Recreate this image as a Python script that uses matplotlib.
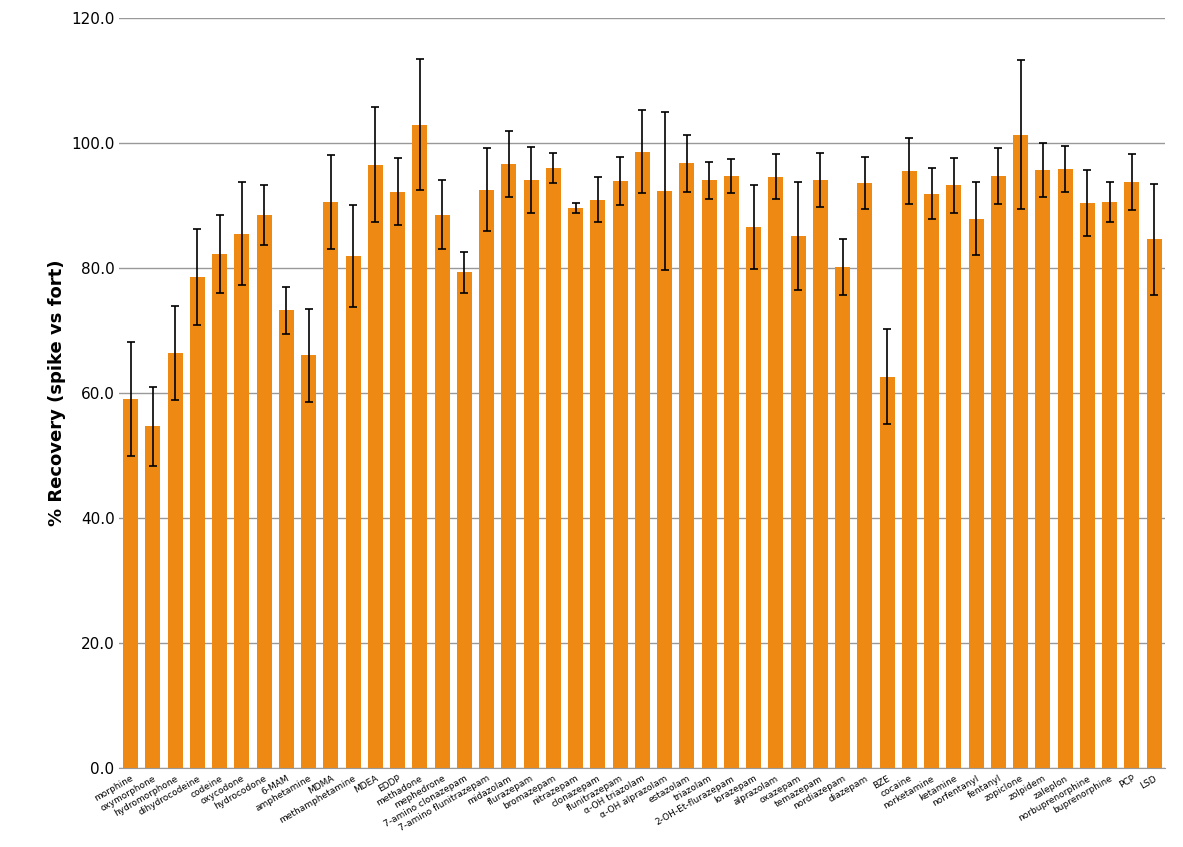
import numpy as np
import matplotlib.pyplot as plt

names = ["morphine", "oxymorphone", "hydromorphone", "dihydrocodeine", "codeine", "oxycodone",
         "hydrocodone", "6-MAM", "amphetamine", "MDMA", "methamphetamine", "MDEA", "EDDP",
         "methadone", "mephedrone", "7-amino clonazepam", "7-amino flunitrazepam", "midazolam",
         "flurazepam", "bromazepam", "nitrazepam", "clonazepam", "flunitrazepam", "α-OH triazolam",
         "α-OH alprazolam", "estazolam", "triazolam", "2-OH-Et-flurazepam", "lorazepam", "alprazolam",
         "oxazepam", "temazepam", "nordiazepam", "diazepam", "BZE", "cocaine", "norketamine",
         "ketamine", "norfentanyl", "fentanyl", "zopiclone", "zolpidem", "zaleplon",
         "norbuprenorphine", "buprenorphine", "PCP", "LSD"]
recovery = [59.0, 54.7, 66.4, 78.6, 82.2, 85.5, 88.5, 73.2, 66.0, 90.6, 81.9, 96.5, 92.2,
            102.9, 88.5, 79.3, 92.5, 96.6, 94.1, 96.0, 89.6, 90.9, 93.9, 98.6, 92.3, 96.7,
            94.0, 94.7, 86.5, 94.6, 85.1, 94.0, 80.2, 93.6, 62.6, 95.5, 91.9, 93.2, 87.9,
            94.7, 101.3, 95.7, 95.8, 90.4, 90.6, 93.7, 84.6]
err = [9.1, 6.3, 7.5, 7.7, 6.2, 8.3, 4.8, 3.8, 7.5, 7.5, 8.2, 9.2, 5.4, 10.5, 5.5, 3.3,
       6.6, 5.3, 5.3, 2.4, 0.8, 3.6, 3.9, 6.6, 12.6, 4.5, 3.0, 2.7, 6.7, 3.6, 8.7, 4.3,
       4.5, 4.2, 7.6, 5.2, 4.1, 4.4, 5.9, 4.5, 11.9, 4.3, 3.7, 5.3, 3.2, 4.5, 8.9]

fig = plt.figure(figsize=(11.83, 8.47), dpi=100)
ax = fig.add_axes([0.101, 0.093, 0.884, 0.886])

x = np.arange(len(names))
ax.bar(x, recovery, width=0.68, color='#EE8A14', zorder=2)
ax.errorbar(x, recovery, yerr=err, fmt='none', ecolor='black', elinewidth=1.2,
            capsize=3, capthick=1.2, zorder=3)

ax.set_xlim(-0.5, len(names) - 0.5)
ax.set_ylim(0, 120)
ax.set_yticks(np.arange(0, 121, 20))
ax.set_yticklabels([f"{v:.1f}" for v in np.arange(0, 121, 20)], fontsize=11)
ax.yaxis.grid(True, color='#999999', linewidth=1, zorder=0)
ax.set_xticks(x)
ax.set_xticklabels(names, rotation=30, ha='right', rotation_mode='anchor', fontsize=6.5)
ax.tick_params(axis='both', length=0)
ax.tick_params(axis='x', pad=4)
for s in ['top', 'right', 'left']:
    ax.spines[s].set_visible(False)
ax.spines['bottom'].set_color('#999999')
ax.set_ylabel('% Recovery (spike vs fort)', fontsize=13, fontweight='bold')

plt.savefig('out.png')
